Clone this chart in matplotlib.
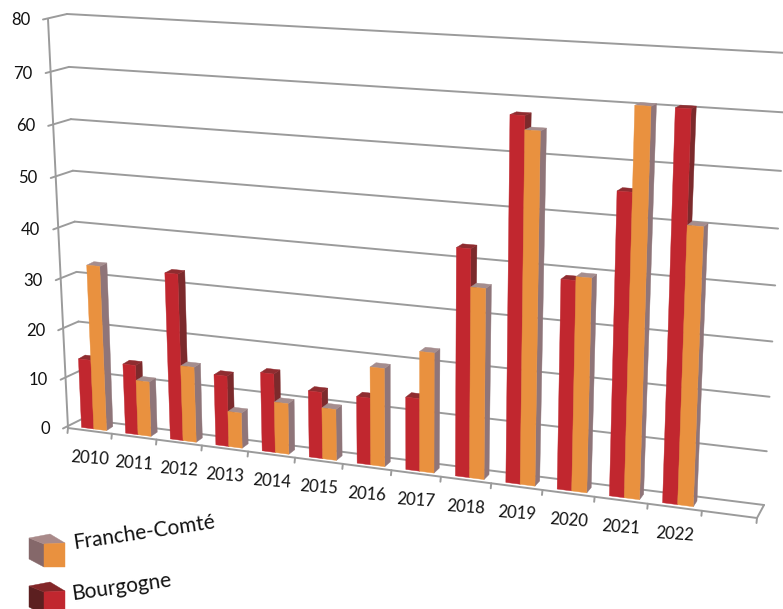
#!/usr/bin/env python3
import matplotlib
matplotlib.use('Agg')
import matplotlib.pyplot as plt
import numpy as np
from matplotlib.patches import Polygon

years = ['2010', '2011', '2012', '2013', '2014', '2015', '2016', '2017',
         '2018', '2019', '2020', '2021', '2022', '']
bourgogne = [14, 14, 33, 14, 15.5, 13, 13, 14, 43, 67.5, 39, 55.5, 70.5]
franche_comte = [33, 11, 15, 7, 10, 10, 19, 23, 36, 65, 39.7, 70.5, 50.5]
y_ticks = [0, 10, 20, 30, 40, 50, 60, 70, 80]

W, H = 783, 609
Y_MAX = 80
GRID = '#9b9b9b'
RED = ('#c1272f', '#7c2a2c', '#8f2c30')      # face, side, top
ORANGE = ('#e9913f', '#8f7579', '#a58d8e')
RED_KEY = ('#c1272f', '#5c1f20', '#832628')
ORANGE_KEY = ('#e9913f', '#85686a', '#a98a8a')

plt.rcParams['font.family'] = ['Lato', 'DejaVu Sans']


# ── Projection (slot, value, depth) -> picture ─────────────────────────────────

def _homography(corners):
    """4 corners (0,0) (1,0) (1,1) (0,1) -> 3x3 matrix."""
    src = [(0, 0), (1, 0), (1, 1), (0, 1)]
    a, b = [], []
    for (s, t), (x, y) in zip(src, corners):
        a.append([s, t, 1, 0, 0, 0, -s * x, -t * x])
        a.append([0, 0, 0, s, t, 1, -s * y, -t * y])
        b += [x, y]
    return np.append(np.linalg.solve(np.array(a, float), np.array(b, float)), 1).reshape(3, 3)


BACK = _homography([(82, 419), (764, 505), (787, 53), (67, 14)])
FRONT = _homography([(68, 428), (757, 518), (777, 58), (48, 19)])
N_SLOTS = len(years)


def _apply(m, s, t):
    p = m @ np.array([s, t, 1.0])
    return p[:2] / p[2]


def proj(slot, value, depth=0.0):
    s, t = slot / N_SLOTS, value / Y_MAX
    return (1 - depth) * _apply(BACK, s, t) + depth * _apply(FRONT, s, t)


# ── Drawing ────────────────────────────────────────────────────────────────────

def line(ax, a, b, lw=1.4, color=GRID):
    ax.plot([a[0], b[0]], [a[1], b[1]], color=color, lw=lw, solid_capstyle='round', zorder=1)


def bar3d(ax, x0, x1, value, colors, d0=0.33, d1=0.78, zorder=3):
    face = [proj(x0, 0, d1), proj(x1, 0, d1), proj(x1, value, d1), proj(x0, value, d1)]
    side = [proj(x1, 0, d1), proj(x1, 0, d0), proj(x1, value, d0), proj(x1, value, d1)]
    top = [proj(x0, value, d1), proj(x1, value, d1), proj(x1, value, d0), proj(x0, value, d0)]
    for pts, col in ((side, colors[1]), (top, colors[2]), (face, colors[0])):
        ax.add_patch(Polygon(pts, closed=True, fc=col, ec=col, lw=0.3, zorder=zorder))


def legend_cube(ax, x, y, colors):
    # x, y = coin haut-gauche de la face avant
    face = [(x, y), (x + 21, y - 1), (x + 21, y + 23), (x, y + 23)]
    side = [(x, y), (x, y + 23), (x - 15, y + 15), (x - 15, y - 6)]
    top = [(x, y), (x + 21, y - 1), (x + 6, y - 10), (x - 15, y - 6)]
    for pts, col in ((side, colors[1]), (top, colors[2]), (face, colors[0])):
        ax.add_patch(Polygon(pts, closed=True, fc=col, ec=col, lw=0.3, zorder=5))


fig = plt.figure(figsize=(W / 100, H / 100), dpi=100)
ax = fig.add_axes([0, 0, 1, 1])
ax.set_xlim(0, W)
ax.set_ylim(H, 0)
ax.axis('off')

# murs
for v in y_ticks:
    front = proj(0, v, 1)
    line(ax, front + np.array([-5, 0.5]), proj(0, v, 0))
    line(ax, proj(0, v, 0), proj(N_SLOTS, v, 0))
    ax.text(front[0] - 18, front[1] + 1, str(v), ha='right', va='center', fontsize=12, color='#111111')
line(ax, proj(0, 0, 1), proj(0, Y_MAX, 1))

# sol
line(ax, proj(0, 0, 1), proj(N_SLOTS, 0, 1))
line(ax, proj(N_SLOTS, 0, 1), proj(N_SLOTS, 0, 0))
for k in range(N_SLOTS + 1):
    a = proj(k, 0, 1)
    line(ax, a, a + np.array([-0.5, 5]))

# barres
for k, year in enumerate(years[:len(bourgogne)]):
    bar3d(ax, k + 0.24, k + 0.52, bourgogne[k], RED, zorder=3 + k)
    bar3d(ax, k + 0.52, k + 0.81, franche_comte[k], ORANGE, zorder=3 + k + 0.5)
    c = proj(k + 0.5, 0, 1)
    ax.text(c[0], c[1] + 27, year, ha='center', va='center', rotation=-4, fontsize=12, color='#111111')

# légende
legend_cube(ax, 44, 544, ORANGE_KEY)
legend_cube(ax, 44, 592, RED_KEY)
ax.text(75, 553, 'Franche-Comté', ha='left', va='bottom', rotation=8.5, rotation_mode='anchor',
        fontsize=15, color='#111111')
ax.text(73, 604, 'Bourgogne', ha='left', va='bottom', rotation=8, rotation_mode='anchor',
        fontsize=15, color='#111111')

fig.savefig('out.png', dpi=100)
